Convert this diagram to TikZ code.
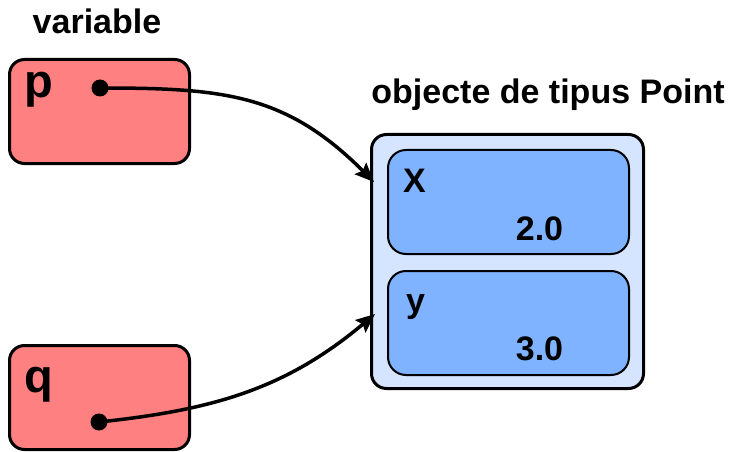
\documentclass[tikz,border=0pt]{standalone}
\usepackage{fontspec}
\setmainfont{Liberation Sans}
\usetikzlibrary{arrows.meta}

\definecolor{varred}{HTML}{FF8080}
\definecolor{objback}{HTML}{D5E5FF}
\definecolor{fieldblue}{HTML}{80B3FF}

\begin{document}
\begin{tikzpicture}[x=1pt,y=-1pt,>={Stealth[length=19pt,width=16pt,inset=3pt]},
    txt/.style={font=\fontsize{34}{40}\selectfont\bfseries,inner sep=0},
    bigtxt/.style={font=\fontsize{47}{52}\selectfont\bfseries,inner sep=0},
    var/.style={rectangle,rounded corners=15,draw,line width=3,fill=varred,
      minimum width=180,minimum height=104},
    field/.style={rectangle,rounded corners=18,draw,line width=2,fill=fieldblue,
      minimum width=241,minimum height=104},
    dot/.style={circle,fill,inner sep=0,minimum size=17},
    ref/.style={->,line width=3.5}]
  \useasboundingbox (0,0) rectangle (732,452);

  % variables
  \node[txt,anchor=base] (vartitle) at (97,34) {variable};
  \node[var] (p) at (99.5,111.5) {};
  \node[var] (q) at (99.5,397.5) {};
  \node[bigtxt,anchor=base west] (pname) at (24,98) {p};
  \node[bigtxt,anchor=base west] (qname) at (24,392) {q};
  \node[dot] (pdot) at (100,88) {};
  \node[dot] (qdot) at (99,422) {};

  % the Point object
  \node[txt,anchor=base] (objtitle) at (548,103) {objecte de tipus Point};
  \node[rectangle,rounded corners=15,draw,line width=3,fill=objback,
    minimum width=272,minimum height=254] (obj) at (507.5,261.5) {};
  \node[field] (fx) at (508.5,202) {};
  \node[field] (fy) at (508.5,323) {};
  \node[txt,anchor=base west] (xname) at (403,193) {X};
  \node[txt,anchor=base] (xval) at (539.5,240) {2.0};
  \node[txt,anchor=base west] (yname) at (406,312) {y};
  \node[txt,anchor=base] (yval) at (539.5,360) {3.0};

  % references
  \coordinate (pin) at (374,182);
  \coordinate (qin) at (375,314);
  \draw[ref] (pdot.center) to[out=0,in=135,looseness=1.1] (pin);
  \draw[ref] (qdot.center) to[out=6,in=-140] (qin);
\end{tikzpicture}
\end{document}
